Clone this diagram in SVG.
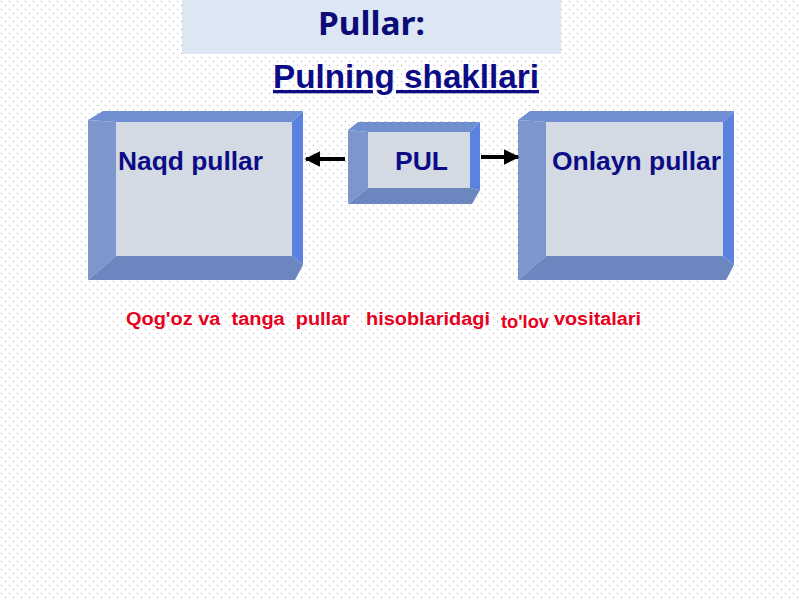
<svg xmlns="http://www.w3.org/2000/svg" width="800" height="600" viewBox="0 0 800 600">
<defs>
<pattern id="dots" width="8" height="8" patternUnits="userSpaceOnUse"><rect x="1" y="1" width="1" height="1" fill="#a8a8a8"/><rect x="5" y="5" width="1" height="1" fill="#b8b8b8"/></pattern>
<marker id="ar" viewBox="0 0 10 10" refX="9" refY="5" markerWidth="4" markerHeight="4" orient="auto"><path d="M0,0L10,5L0,10z" fill="#000"/></marker>
<style>
.face{fill:#d3dae4}.top{fill:#6f8fd0}.left{fill:#7d96cc}.right{fill:#5b82de}.bot{fill:#6c86c0}
.lbl{font-family:"Liberation Sans",Arial,sans-serif;font-weight:bold;fill:#0c0c86;font-size:25px}
.red{font-family:"Liberation Sans",Arial,sans-serif;font-weight:bold;fill:#e8001c;font-size:18px}
</style>
</defs>
<rect width="800" height="600" fill="#fff"/>
<rect width="800" height="600" fill="url(#dots)"/>
<rect x="182" y="0" width="379" height="54" fill="#dde7f3"/>
<text x="318" y="35" textLength="107" lengthAdjust="spacingAndGlyphs" font-family="'Noto Sans',sans-serif" font-weight="bold" font-size="32" fill="#0c0c78">Pullar:</text>
<text x="273" y="88" textLength="266" lengthAdjust="spacingAndGlyphs" font-family="'Liberation Sans',Arial,sans-serif" font-weight="bold" font-size="33" fill="#0c0c86" text-decoration="underline">Pulning shakllari</text>
<g id="naqd">
<polygon class="top" points="88,120 103,111 303,111 292,122 116,122"/>
<polygon class="left" points="88,120 116,122 116,256 88,280"/>
<polygon class="right" points="292,122 303,111 303,265 292,256"/>
<polygon class="bot" points="88,280 116,256 292,256 303,265 295,280"/>
<rect class="face" x="116" y="122" width="176" height="134"/>
<text class="lbl" x="118" y="170" textLength="145" lengthAdjust="spacingAndGlyphs">Naqd pullar</text>
</g>
<g id="pul">
<polygon class="top" points="348,130 358,122 480,122 470,132 368,132"/>
<polygon class="left" points="348,130 368,132 368,188 348,204"/>
<polygon class="right" points="470,132 480,122 480,190 470,188"/>
<polygon class="bot" points="348,204 368,188 470,188 480,190 472,204"/>
<rect class="face" x="368" y="132" width="102" height="56"/>
<text class="lbl" x="395" y="170" textLength="53" lengthAdjust="spacingAndGlyphs">PUL</text>
</g>
<g id="onlayn">
<polygon class="top" points="518,120 530,111 734,111 723,122 546,122"/>
<polygon class="left" points="518,120 546,122 546,256 518,280"/>
<polygon class="right" points="723,122 734,111 734,265 723,256"/>
<polygon class="bot" points="518,280 546,256 723,256 734,265 726,280"/>
<rect class="face" x="546" y="122" width="177" height="134"/>
<text class="lbl" x="552" y="170" textLength="169" lengthAdjust="spacingAndGlyphs">Onlayn pullar</text>
</g>
<g id="connectors" stroke="#000" stroke-width="4" fill="none">
<line x1="345" y1="159" x2="306" y2="159" marker-end="url(#ar)"/>
<line x1="481" y1="157" x2="518" y2="157" marker-end="url(#ar)"/>
</g>
<text class="red" x="126" y="325" textLength="224" lengthAdjust="spacingAndGlyphs" xml:space="preserve">Qog'oz va  tanga  pullar</text>
<text class="red" x="366" y="325" textLength="124" lengthAdjust="spacingAndGlyphs">hisoblaridagi</text>
<text class="red" x="501" y="328" font-size="15" textLength="48" lengthAdjust="spacingAndGlyphs">to'lov</text>
<text class="red" x="554" y="325" textLength="87" lengthAdjust="spacingAndGlyphs">vositalari</text>
</svg>
